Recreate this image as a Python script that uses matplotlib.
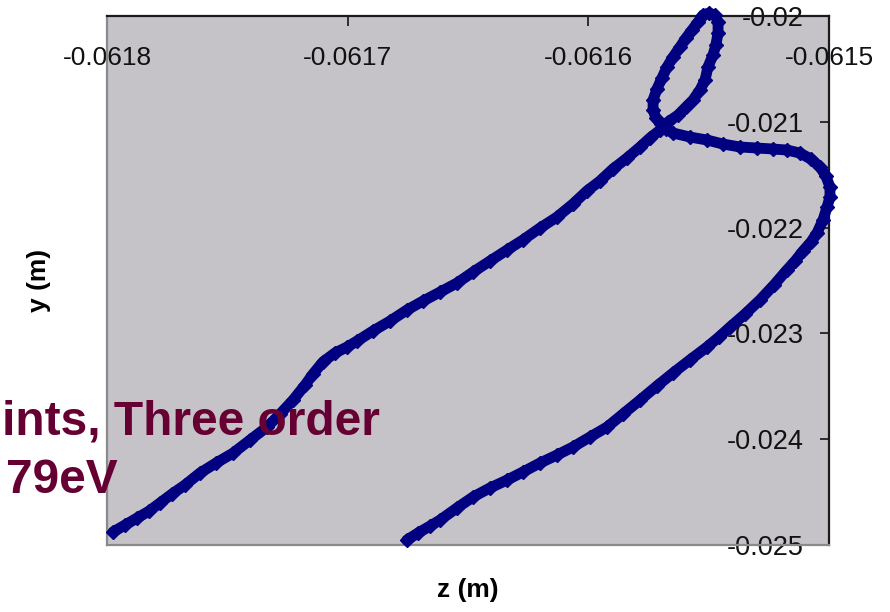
import matplotlib
matplotlib.use("Agg")
import matplotlib.pyplot as plt

plt.rcParams['font.family'] = ['Liberation Sans', 'DejaVu Sans']

# Trajectory (z, y) in metres, in path order
z_vals = [
    -0.0617975, -0.0617925, -0.0617875, -0.0617825, -0.0617780, -0.0617730,
    -0.0617676, -0.0617614, -0.0617547, -0.0617476, -0.0617406, -0.0617335,
    -0.0617281, -0.0617227, -0.0617177, -0.0617144, -0.0617103, -0.0617053,
    -0.0617003, -0.0616961, -0.0616895, -0.0616824, -0.0616754, -0.0616687,
    -0.0616616, -0.0616546, -0.0616479, -0.0616409, -0.0616338, -0.0616272,
    -0.0616201, -0.0616130, -0.0616064, -0.0616006, -0.0615952, -0.0615898,
    -0.0615839, -0.0615785, -0.0615744, -0.0615702,
    # loop, right side going up
    -0.0615669, -0.0615627, -0.0615594, -0.0615565, -0.0615536, -0.0615515,
    -0.0615503, -0.0615482, -0.0615470, -0.0615461, -0.0615461, -0.0615474,
    -0.0615499, -0.0615524,
    # loop, left side going down
    -0.0615544, -0.0615569, -0.0615594, -0.0615619, -0.0615648, -0.0615673,
    -0.0615694, -0.0615715, -0.0615731, -0.0615731, -0.0615719, -0.0615698,
    -0.0615677,
    # right branch
    -0.0615648, -0.0615578, -0.0615507, -0.0615441, -0.0615370, -0.0615299,
    -0.0615233, -0.0615175, -0.0615121, -0.0615075, -0.0615037, -0.0615013,
    -0.0614996, -0.0614996, -0.0615008, -0.0615025, -0.0615050, -0.0615075,
    -0.0615108, -0.0615141, -0.0615175, -0.0615229, -0.0615287, -0.0615349,
    -0.0615411, -0.0615457, -0.0615507, -0.0615578, -0.0615648, -0.0615715,
    -0.0615785, -0.0615856, -0.0615922, -0.0615993, -0.0616064, -0.0616130,
    -0.0616201, -0.0616272, -0.0616338, -0.0616409, -0.0616479, -0.0616546,
    -0.0616616, -0.0616658, -0.0616708, -0.0616754,
]
y_vals = [
    -0.024877, -0.024811, -0.024745, -0.024679, -0.024603, -0.024518,
    -0.024433, -0.024320, -0.024225, -0.024131, -0.024008, -0.023885,
    -0.023762, -0.023630, -0.023488, -0.023384, -0.023270, -0.023185,
    -0.023129, -0.023072, -0.022977, -0.022883, -0.022779, -0.022694,
    -0.022609, -0.022524, -0.022420, -0.022316, -0.022212, -0.022117,
    -0.022004, -0.021900, -0.021777, -0.021654, -0.021560, -0.021446,
    -0.021342, -0.021238, -0.021153, -0.021078,
    -0.021002, -0.020936, -0.020860, -0.020794, -0.020699, -0.020605,
    -0.020482, -0.020369, -0.020274, -0.020161, -0.020057, -0.019991,
    -0.019972, -0.019991,
    -0.020057, -0.020132, -0.020208, -0.020293, -0.020388, -0.020482,
    -0.020586, -0.020690, -0.020794, -0.020889, -0.020964, -0.021021,
    -0.021068,
    -0.021106, -0.021144, -0.021172, -0.021210, -0.021238, -0.021248,
    -0.021257, -0.021267, -0.021295, -0.021352, -0.021427, -0.021512,
    -0.021616, -0.021711, -0.021805, -0.021928, -0.022051, -0.022136,
    -0.022221, -0.022316, -0.022401, -0.022543, -0.022684, -0.022817,
    -0.022940, -0.023034, -0.023129, -0.023251, -0.023374, -0.023497,
    -0.023630, -0.023762, -0.023885, -0.023979, -0.024074, -0.024149,
    -0.024225, -0.024310, -0.024386, -0.024461, -0.024546, -0.024650,
    -0.024764, -0.024821, -0.024887, -0.024953,
]

x_ticks = [-0.0618, -0.0617, -0.0616, -0.0615]
x_tick_labels = ['-0.0618', '-0.0617', '-0.0616', '-0.0615']
y_ticks = [-0.020, -0.021, -0.022, -0.023, -0.024, -0.025]
y_tick_labels = ['-0.02', '-0.021', '-0.022', '-0.023', '-0.024', '-0.025']

x_label = 'z (m)'
y_label = 'y (m)'
title_line1 = 'ints, Three order'
title_line2 = '79eV'

fig = plt.figure(figsize=(8.9, 6.12), dpi=100)
fig.patch.set_facecolor('white')
ax = fig.add_axes([107 / 890, 1 - 545 / 612, 722 / 890, 529 / 612])
ax.set_facecolor('#c5c3c7')

ax.plot(z_vals, y_vals, '-', color='#000080', lw=7.8, marker='D', ms=7.0,
        mec='#000080', mfc='#000080', clip_on=False, zorder=3,
        solid_joinstyle='round', solid_capstyle='round')

ax.set_xlim(-0.0618, -0.0615)
ax.set_ylim(-0.025, -0.020)

ax.set_xticks(x_ticks)
ax.set_xticklabels(x_tick_labels)
ax.set_yticks(y_ticks)
ax.set_yticklabels(y_tick_labels)

ax.tick_params(axis='x', which='both', bottom=False, labelbottom=False,
               top=True, labeltop=True, direction='in', length=7.5, width=1.3,
               color='#222222', labelsize=19, pad=-39, labelcolor='#111111')
ax.tick_params(axis='y', which='both', left=False, labelleft=False,
               right=True, labelright=True, direction='in', length=6.5, width=1.3,
               color='#222222', labelsize=19.5, pad=-18, labelcolor='#111111')
for t in ax.get_yticklabels():
    t.set_horizontalalignment('right')

for side in ['top', 'right']:
    ax.spines[side].set_color('#1a1a1a')
    ax.spines[side].set_linewidth(1.6)
for side in ['left', 'bottom']:
    ax.spines[side].set_color('#8a8a8a')
    ax.spines[side].set_linewidth(1.6)

ax.xaxis.set_label_position('bottom')
ax.set_xlabel(x_label, fontsize=19, fontweight='bold', labelpad=24)
ax.yaxis.set_label_position('left')
ax.set_ylabel(y_label, fontsize=19, fontweight='bold', labelpad=40)

fig.text(2 / 890, 1 - 435 / 612, title_line1, fontsize=34.5, fontweight='bold',
         color='#660033', ha='left', va='baseline', zorder=10)
fig.text(6 / 890, 1 - 493 / 612, title_line2, fontsize=34.5, fontweight='bold',
         color='#660033', ha='left', va='baseline', zorder=10)

fig.savefig('out.png', dpi=100)
